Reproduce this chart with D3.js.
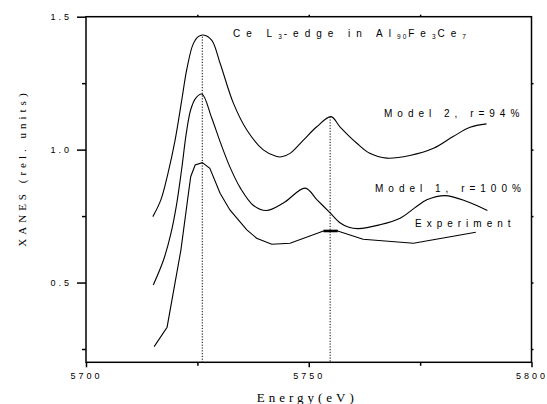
<!DOCTYPE html>
<html>
<head>
<meta charset="utf-8">
<script src="https://cdn.jsdelivr.net/npm/d3@7"></script>
<style>
  body { margin: 0; background: #fff; }
  svg { display: block; }
  .tick text { font-family: 'Liberation Sans', Arial, sans-serif; font-size: 9px; letter-spacing: 3px; fill: #000; }
  .lbl { font-family: 'Liberation Sans', Arial, sans-serif; font-size: 10px; letter-spacing: 5px; fill: #000; }
  .axlbl { font-family: 'Liberation Serif', 'Times New Roman', serif; fill: #000; }
</style>
</head>
<body>
<div id="chart"></div>
<script>
// Model 2, r=94%
const model2Energy = [5715.0, 5716.8, 5718.4, 5720.0, 5721.5, 5722.6, 5724.0, 5725.2, 5726.3, 5728.2, 5730.1, 5733.1, 5736.1, 5739.8, 5742.8, 5743.9, 5745.8, 5748.8, 5751.8, 5755.0, 5757.0, 5760.8, 5763.7, 5767.5, 5772.7, 5778.0, 5782.4, 5786.2, 5789.9];
const model2Xanes  = [0.748, 0.811, 0.911, 1.036, 1.187, 1.300, 1.395, 1.425, 1.431, 1.412, 1.325, 1.174, 1.074, 0.999, 0.974, 0.973, 0.986, 1.036, 1.086, 1.124, 1.086, 1.024, 0.986, 0.968, 0.978, 1.005, 1.049, 1.084, 1.097];

// Model 1, r=100%
const model1Energy = [5715.1, 5717.4, 5719.0, 5720.3, 5721.5, 5722.5, 5723.5, 5724.6, 5726.0, 5728.2, 5730.1, 5732.3, 5734.6, 5737.6, 5740.5, 5744.3, 5749.2, 5751.8, 5754.8, 5757.0, 5759.0, 5761.1, 5765.9, 5770.5, 5774.2, 5776.5, 5780.6, 5785.5, 5790.1];
const model1Xanes  = [0.491, 0.585, 0.680, 0.790, 0.930, 1.060, 1.150, 1.193, 1.209, 1.120, 1.030, 0.935, 0.857, 0.790, 0.771, 0.799, 0.855, 0.812, 0.762, 0.725, 0.708, 0.703, 0.717, 0.742, 0.786, 0.811, 0.827, 0.805, 0.771];

// Experiment
const expEnergy = [5715.3, 5718.2, 5721.3, 5722.8, 5723.5, 5724.5, 5726.1, 5727.8, 5730.1, 5732.3, 5736.1, 5738.3, 5741.7, 5745.8, 5753.3, 5756.5, 5762.2, 5773.5, 5787.5];
const expXanes  = [0.259, 0.332, 0.622, 0.811, 0.898, 0.942, 0.951, 0.930, 0.836, 0.773, 0.698, 0.667, 0.644, 0.648, 0.694, 0.694, 0.663, 0.648, 0.689];

// short bold piece of the experiment curve
const expBoldEnergy = [5753.3, 5756.5];
const expBoldXanes  = [0.694, 0.694];

// dotted peak markers
const peakEnergy = [5726.1, 5754.8];
const peakXanes  = [1.425, 1.124];

const xMajorTicks = [5700, 5750, 5800];
const xMinorTicks = [5725, 5775];
const yMajorTicks = [0.5, 1.0, 1.5];
const yMinorTicks = [0.25, 0.75, 1.25];

const seriesLabels = ['Model 2, r=94%', 'Model 1, r=100%', 'Experiment'];

const W = 547, H = 404;
const plot = { left: 86, right: 531.5, top: 16.7, bottom: 362.3 };

const svg = d3.select('#chart').append('svg')
  .attr('width', W)
  .attr('height', H);

const x = d3.scaleLinear().domain([5700, 5800]).range([plot.left, plot.right]);
const y = d3.scaleLinear().domain([0.2, 1.5]).range([plot.bottom, plot.top]);

// bottom axis
svg.append('g')
  .attr('transform', `translate(0,${plot.bottom})`)
  .call(d3.axisBottom(x).tickValues(xMajorTicks).tickSize(5).tickSizeOuter(0).tickPadding(5.3).tickFormat(d3.format('d')))
  .call(g => g.select('.domain').remove());
svg.append('g')
  .attr('transform', `translate(0,${plot.bottom})`)
  .call(d3.axisBottom(x).tickValues(xMinorTicks).tickSize(3.5).tickSizeOuter(0).tickFormat(''))
  .call(g => g.select('.domain').remove());

// left axis
svg.append('g')
  .attr('transform', `translate(${plot.left},0)`)
  .call(d3.axisLeft(y).tickValues(yMajorTicks).tickSize(9).tickSizeOuter(0).tickPadding(5).tickFormat(d3.format('.1f')))
  .call(g => g.select('.domain').remove());
svg.append('g')
  .attr('transform', `translate(${plot.left},0)`)
  .call(d3.axisLeft(y).tickValues(yMinorTicks).tickSize(4).tickSizeOuter(0).tickFormat(''))
  .call(g => g.select('.domain').remove());

// small ticks on top and right
svg.append('g')
  .attr('transform', `translate(0,${plot.top})`)
  .call(d3.axisTop(x).tickValues([5725, 5750, 5775]).tickSize(2).tickSizeOuter(0).tickFormat(''))
  .call(g => g.select('.domain').remove());
svg.append('g')
  .attr('transform', `translate(${plot.right},0)`)
  .call(d3.axisRight(y).tickValues([0.25, 0.5, 0.75, 1.0, 1.25]).tickSize(2).tickSizeOuter(0).tickFormat(''))
  .call(g => g.select('.domain').remove());

svg.selectAll('.tick line').attr('stroke', '#000').attr('stroke-width', 1.5);

// frame
svg.append('rect')
  .attr('x', plot.left)
  .attr('y', plot.top)
  .attr('width', plot.right - plot.left)
  .attr('height', plot.bottom - plot.top)
  .attr('fill', 'none')
  .attr('stroke', '#000')
  .attr('stroke-width', 1.5);

// dotted peak markers
svg.selectAll('line.peak')
  .data(peakEnergy)
  .enter()
  .append('line')
  .attr('class', 'peak')
  .attr('x1', d => x(d))
  .attr('x2', d => x(d))
  .attr('y1', (d, i) => y(peakXanes[i]))
  .attr('y2', plot.bottom)
  .attr('stroke', '#000')
  .attr('stroke-width', 1)
  .attr('stroke-dasharray', '1.2,1.6');

const smooth = d3.line()
  .x(d => x(d[0]))
  .y(d => y(d[1]))
  .curve(d3.curveCatmullRom.alpha(0.5));
const straight = d3.line()
  .x(d => x(d[0]))
  .y(d => y(d[1]));

const zip = (a, b) => a.map((v, i) => [v, b[i]]);

svg.append('path')
  .attr('d', smooth(zip(model2Energy, model2Xanes)))
  .attr('fill', 'none').attr('stroke', '#000').attr('stroke-width', 1.1);
svg.append('path')
  .attr('d', smooth(zip(model1Energy, model1Xanes)))
  .attr('fill', 'none').attr('stroke', '#000').attr('stroke-width', 1.1);
svg.append('path')
  .attr('d', straight(zip(expEnergy, expXanes)))
  .attr('fill', 'none').attr('stroke', '#000').attr('stroke-width', 1.1);
svg.append('path')
  .attr('d', straight(zip(expBoldEnergy, expBoldXanes)))
  .attr('fill', 'none').attr('stroke', '#000').attr('stroke-width', 2.6);

// series labels
const labelPos = [[384, 116.7], [375, 191.7], [415, 227.3]];
svg.selectAll('text.series')
  .data(seriesLabels)
  .enter()
  .append('text')
  .attr('class', 'lbl series')
  .attr('x', (d, i) => labelPos[i][0])
  .attr('y', (d, i) => labelPos[i][1])
  .text(d => d);

// title with subscripts
const title = svg.append('text')
  .attr('class', 'lbl')
  .attr('x', 233)
  .attr('y', 37)
  .style('letter-spacing', '6px');
const parts = [['Ce L', false], ['3', true], ['-edge in Al', false], ['90', true], ['Fe', false], ['3', true], ['Ce', false], ['7', true]];
parts.forEach(([t, sub], i) => {
  const prevSub = i > 0 && parts[i - 1][1];
  title.append('tspan')
    .attr('dy', sub ? 1.5 : (prevSub ? -1.5 : 0))
    .style('font-size', sub ? '6.5px' : null)
    .style('letter-spacing', sub ? '2px' : null)
    .text(t);
});

// axis titles
svg.append('text')
  .attr('class', 'axlbl')
  .attr('x', 256.7)
  .attr('y', 401.7)
  .style('font-size', '13px')
  .style('letter-spacing', '4px')
  .text('Energy(eV)');

svg.append('text')
  .attr('class', 'axlbl')
  .attr('transform', 'translate(25.5,246.7) rotate(-90)')
  .style('font-size', '11px')
  .style('letter-spacing', '4px')
  .text('XANES (rel. units)');
</script>
</body>
</html>
